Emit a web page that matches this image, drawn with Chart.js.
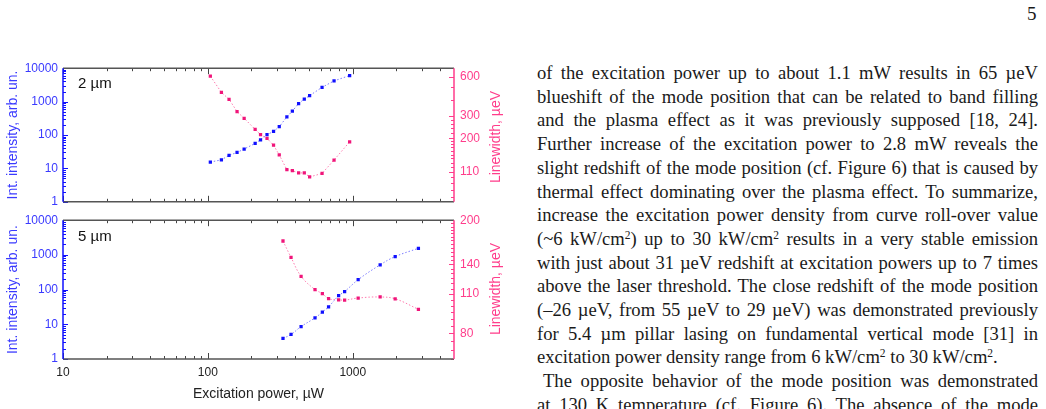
<!DOCTYPE html>
<html lang="en">
<head>
<meta charset="utf-8">
<title>Int. intensity and linewidth vs excitation power</title>
<script src="https://cdn.jsdelivr.net/npm/chart.js@4.4.1/dist/chart.umd.min.js"></script>
<style>
  body { margin: 0; background: #fff; width: 1046px; height: 409px; overflow: hidden; position: relative; }
  .panel { position: absolute; left: 0; width: 510px; }
  #topBox { top: 55px; height: 160px; }
  #botBox { top: 207px; height: 202px; }
  .size { position: absolute; left: 78px; font: 15px "Liberation Sans", Arial, sans-serif; color: #111; }
  .rtitle { position: absolute; font: 14px "Liberation Sans", Arial, sans-serif; color: #ff3d8b;
            transform: translate(-50%, -50%) rotate(-90deg); white-space: nowrap; }
  #text { position: absolute; left: 537px; top: 61px; width: 501px;
          font: 18.6px "Liberation Serif", "Times New Roman", serif; line-height: 23.7px; color: #1a1a1a; }
  #text div { text-align: justify; text-align-last: justify; }
  #text div.last { text-align-last: left; }
  #text div.ind { text-indent: 6px; }
  .sp { font-size: 0.62em; vertical-align: 0.5em; line-height: 0; }
  #pageno { position: absolute; left: 1027px; top: 3px; font: 19px "Liberation Serif", serif; color: #1a1a1a; }
</style>
</head>
<body>

<div id="pageno">5</div>

<div class="panel" id="topBox"><canvas id="chartTop"></canvas></div>
<div class="panel" id="botBox"><canvas id="chartBot"></canvas></div>
<div class="size" style="top:74px">2 &micro;m</div>
<div class="size" style="top:227px">5 &micro;m</div>
<div class="rtitle" style="left:495px; top:137px">Linewidth, &micro;eV</div>
<div class="rtitle" style="left:495px; top:289px">Linewidth, &micro;eV</div>

<div id="text">
  <div>of the excitation power up to about 1.1 mW results in 65 &micro;eV</div>
  <div>blueshift of the mode position that can be related to band filling</div>
  <div>and the plasma effect as it was previously supposed [18, 24].</div>
  <div>Further increase of the excitation power to 2.8 mW reveals the</div>
  <div>slight redshift of the mode position (cf. Figure 6) that is caused by</div>
  <div>thermal effect dominating over the plasma effect. To summarize,</div>
  <div>increase the excitation power density from curve roll-over value</div>
  <div>(~6 kW/cm<span class="sp">2</span>) up to 30 kW/cm<span class="sp">2</span> results in a very stable emission</div>
  <div>with just about 31 &micro;eV redshift at excitation powers up to 7 times</div>
  <div>above the laser threshold. The close redshift of the mode position</div>
  <div>(&ndash;26 &micro;eV, from 55 &micro;eV to 29 &micro;eV) was demonstrated previously</div>
  <div>for 5.4 &micro;m pillar lasing on fundamental vertical mode [31] in</div>
  <div class="last">excitation power density range from 6 kW/cm<span class="sp">2</span> to 30 kW/cm<span class="sp">2</span>.</div>
  <div class="ind">The opposite behavior of the mode position was demonstrated</div>
  <div>at 130 K temperature (cf. Figure 6). The absence of the mode</div>
</div>

<script>
// 2 um pillar
var power2 = [104, 124, 140, 159, 178, 212, 231, 256, 284, 311, 351, 383, 423, 463, 504, 614, 743, 952];
var intensity2 = [15.5, 18, 24.6, 30, 38, 56, 72, 102, 128, 177, 349, 518, 877, 1190, 1510, 2680, 4170, 6030];
var linewidth2 = [607, 455, 402, 323, 286, 235, 214, 200, 177, 149, 114.5, 112.5, 108, 108, 100.5, 107, 136, 188];

// 5 um pillar
var power5 = [330, 375, 440, 549, 617, 681, 799, 879, 1090, 1546, 1963, 2840];
var intensity5 = [3.9, 5.1, 8.6, 15.3, 22.5, 32, 66.5, 88, 193, 518, 894, 1554];
var linewidth5 = [169, 148, 127, 114, 110.4, 106, 105, 104.7, 106.5, 107.4, 105.8, 97.2];

// axis ticks
var xLabels = [10, 100, 1000];
var yLabels = [1, 10, 100, 1000, 10000];
var lwLabels2 = [110, 200, 300, 600];
var lwLabels5 = [80, 110, 140, 200];

var BLUE = '#1010ff', BLUE_TXT = '#3a3aff', BLUE_LINE = '#7a7aff';
var PINK = '#f0157a', PINK_TXT = '#ff3d8b', PINK_LINE = '#ff7aae';
var FONT = 'Liberation Sans';

function decadeMinors(from, to) {
  var out = [];
  for (var d = from; d < to; d *= 10)
    for (var k = 2; k <= 9; k++) out.push(d * k);
  return out;
}
function stepMinors(list) {
  // list of [start, end, step]
  var out = [];
  list.forEach(function (r) { for (var v = r[0]; v <= r[1] + 1e-9; v += r[2]) out.push(v); });
  return out;
}

var xMinor = decadeMinors(10, 5000).filter(function (v) { return v < 5000; });
var yMinor = decadeMinors(1, 10000);
var lwMinor2 = stepMinors([[70, 200, 10], [220, 300, 20], [400, 700, 100]]);
var lwMinor5 = stepMinors([[65, 200, 5]]);

function pts(xs, ys) {
  return xs.map(function (v, i) { return { x: v, y: ys[i] }; });
}

// inward tick marks + frame
var frame = {
  id: 'frame',
  afterDatasetsDraw: function (chart) {
    var ctx = chart.ctx, a = chart.chartArea, s = chart.scales;
    var o = chart.options.plugins.frame;
    ctx.save();
    ctx.lineWidth = 1;
    function xt(v, len) {
      var p = Math.round(s.x.getPixelForValue(v)) + 0.5;
      ctx.moveTo(p, a.bottom); ctx.lineTo(p, a.bottom - len);
      ctx.moveTo(p, a.top); ctx.lineTo(p, a.top + len);
    }
    function yt(sc, v, len, right) {
      var p = Math.round(sc.getPixelForValue(v)) + 0.5;
      var e = right ? a.right : a.left;
      ctx.moveTo(e, p); ctx.lineTo(right ? e - len : e + len, p);
    }
    ctx.strokeStyle = '#444';
    ctx.beginPath();
    xMinor.forEach(function (v) { xt(v, 3); });
    xLabels.forEach(function (v) { xt(v, 6); });
    ctx.stroke();

    ctx.strokeStyle = BLUE;
    ctx.beginPath();
    yMinor.forEach(function (v) { yt(s.y, v, 3, false); });
    yLabels.forEach(function (v) { yt(s.y, v, 5, false); });
    ctx.stroke();

    ctx.strokeStyle = PINK_TXT;
    ctx.beginPath();
    o.minor.forEach(function (v) { if (v >= s.y2.min && v <= s.y2.max) yt(s.y2, v, 3, true); });
    o.major.forEach(function (v) { yt(s.y2, v, 5, true); });
    ctx.stroke();

    ctx.lineWidth = 1.5;
    ctx.strokeStyle = '#555';
    ctx.beginPath();
    ctx.moveTo(a.left, a.top); ctx.lineTo(a.right, a.top);
    ctx.moveTo(a.left, a.bottom); ctx.lineTo(a.right, a.bottom);
    ctx.stroke();
    ctx.strokeStyle = BLUE;
    ctx.beginPath(); ctx.moveTo(a.left, a.top); ctx.lineTo(a.left, a.bottom); ctx.stroke();
    ctx.strokeStyle = PINK_TXT;
    ctx.beginPath(); ctx.moveTo(a.right, a.top); ctx.lineTo(a.right, a.bottom); ctx.stroke();
    ctx.restore();
  }
};

function makeChart(id, opts) {
  var ds = [
    {
      data: pts(opts.px, opts.int), yAxisID: 'y',
      borderColor: BLUE_LINE, backgroundColor: BLUE, pointBorderColor: BLUE,
      borderWidth: 1, borderDash: [1.5, 2], tension: opts.tension,
      pointStyle: 'rect', pointRadius: 2.3, pointBorderWidth: 0
    },
    {
      data: pts(opts.px, opts.lw), yAxisID: 'y2',
      borderColor: PINK_LINE, backgroundColor: PINK, pointBorderColor: PINK,
      borderWidth: 1, borderDash: [1.5, 2], tension: opts.tension,
      pointStyle: 'rect', pointRadius: 2.3, pointBorderWidth: 0
    }
  ];
  return new Chart(document.getElementById(id), {
    type: 'line',
    data: { datasets: ds },
    plugins: [frame],
    options: {
      responsive: true,
      maintainAspectRatio: false,
      animation: false,
      layout: { padding: { top: 12, left: 0, right: 0, bottom: 0 } },
      plugins: {
        legend: { display: false },
        tooltip: { enabled: false },
        frame: { major: opts.lwMajor, minor: opts.lwMinor }
      },
      scales: {
        x: {
          type: 'logarithmic', min: 10, max: 5000,
          grid: { display: false, drawTicks: false }, border: { display: false },
          afterBuildTicks: function (sc) { sc.ticks = xLabels.map(function (v) { return { value: v }; }); },
          afterFit: function (sc) { sc.height = opts.xHeight; },
          ticks: {
            display: opts.showX, autoSkip: false, maxRotation: 0, padding: 6,
            color: '#222', font: { family: FONT, size: 12 },
            callback: function (v) { return String(v); }
          },
          title: {
            display: opts.showX, text: 'Excitation power, \u00b5W', color: '#222',
            font: { family: FONT, size: 14 }, padding: { top: 0, bottom: 6 }
          }
        },
        y: {
          type: 'logarithmic', position: 'left', min: 1, max: 10000,
          grid: { display: false, drawTicks: false }, border: { display: false },
          afterBuildTicks: function (sc) { sc.ticks = yLabels.map(function (v) { return { value: v }; }); },
          afterFit: function (sc) { sc.width = 63; },
          ticks: {
            autoSkip: false, padding: 5, color: BLUE_TXT, font: { family: FONT, size: 12 },
            callback: function (v) { return String(v); }
          },
          title: {
            display: true, text: 'Int. intensity, arb. un.', color: BLUE_TXT,
            font: { family: FONT, size: 14 }, padding: { top: 4.5, bottom: 0 }
          }
        },
        y2: {
          type: 'logarithmic', position: 'right', min: opts.lwMin, max: opts.lwMax,
          grid: { display: false, drawTicks: false }, border: { display: false },
          afterBuildTicks: function (sc) { sc.ticks = opts.lwMajor.map(function (v) { return { value: v }; }); },
          afterFit: function (sc) { sc.width = 56; },
          ticks: {
            autoSkip: false, padding: 6, color: PINK_TXT, font: { family: FONT, size: 12 },
            callback: function (v) { return String(v); }
          }
        }
      }
    }
  });
}

makeChart('chartTop', {
  px: power2, int: intensity2, lw: linewidth2, tension: 0,
  lwMin: 64.5, lwMax: 700, lwMajor: lwLabels2, lwMinor: lwMinor2,
  showX: false, xHeight: 8
});
makeChart('chartBot', {
  px: power5, int: intensity5, lw: linewidth5, tension: 0.4,
  lwMin: 65, lwMax: 200, lwMajor: lwLabels5, lwMinor: lwMinor5,
  showX: true, xHeight: 50
});
</script>
</body>
</html>
